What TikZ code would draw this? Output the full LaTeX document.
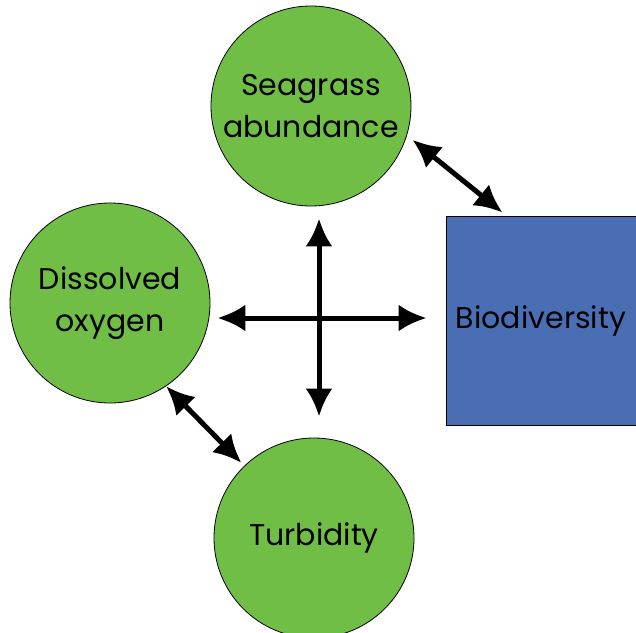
\documentclass[tikz,border=0pt]{standalone}
\usepackage{fontspec}
\setmainfont{Poppins}
\usepackage{tikz}
\usetikzlibrary{arrows.meta, positioning}

\definecolor{grassgreen}{RGB}{112,190,70}
\definecolor{biobox}{RGB}{74,110,180}

\tikzset{
  factor/.style={circle, draw=black, line width=0.8pt, fill=grassgreen,
    minimum size=200pt, inner sep=0pt, align=center,
    font=\fontsize{30}{42}\selectfont},
  link/.style={{Latex[length=28pt,width=27pt]}-{Latex[length=28pt,width=27pt]},
    line width=5pt, black}
}

\begin{document}
\begin{tikzpicture}[x=1pt,y=-1pt]
\useasboundingbox (0,0) rectangle (636,632);
\node [factor] (seagrass) at (311,106) {Seagrass\\abundance};
\node [factor] (oxygen) at (110,303) {Dissolved\\oxygen};
\node [factor] (turbidity) at (314,538) {Turbidity};
\node [draw=black, line width=0.8pt, fill=biobox, minimum width=190pt,
       minimum height=209pt, inner sep=0pt, font=\fontsize{30}{42}\selectfont]
       (bio) at (541,320.5) {Biodiversity};
\coordinate (hub) at (319,318);

\draw [link, shorten <=12pt, shorten >=21pt] (seagrass.south -| hub) -- (turbidity.north -| hub);
\draw [link, shorten <=7pt, shorten >=19pt] (oxygen.east |- hub) -- (bio.west |- hub);
\draw [link, shorten <=7pt] (seagrass.-17) -- ([xshift=57pt,yshift=3pt]bio.north west);
\draw [link, shorten >=4pt] (oxygen.-56) -- (turbidity.134);
\end{tikzpicture}
\end{document}
